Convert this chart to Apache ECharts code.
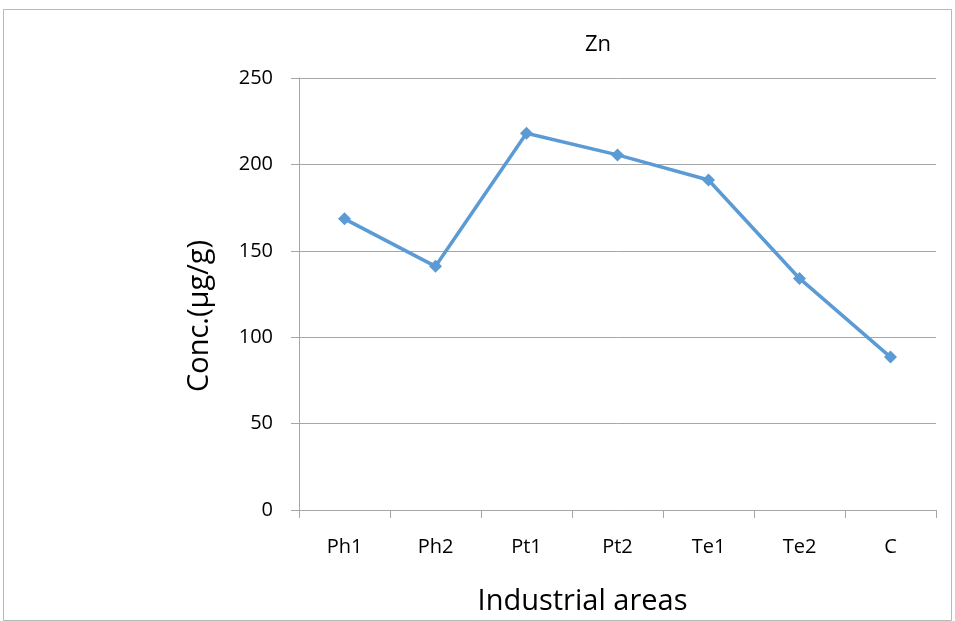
<!DOCTYPE html>
<html>
<head>
<meta charset="utf-8">
<script src="https://cdn.jsdelivr.net/npm/echarts@6/dist/echarts.min.js"></script>
<style>
  html, body { margin: 0; padding: 0; background: #fff; }
  #chart { width: 955px; height: 621px; }
</style>
</head>
<body>
<div id="chart"></div>
<script>
// Zn concentration by industrial area
const categories = ['Ph1', 'Ph2', 'Pt1', 'Pt2', 'Te1', 'Te2', 'C'];
const znValues = [168.5, 141, 218, 205.5, 191, 134, 88.5];
const yTicks = { min: 0, max: 250, interval: 50 };

const FONT = '"Open Sans", "Noto Sans", sans-serif';
const chart = echarts.init(document.getElementById('chart'));

chart.setOption({
  animation: false,
  backgroundColor: '#ffffff',
  title: {
    text: 'Zn',
    left: 593,
    top: 29,
    textAlign: 'center',
    textStyle: { fontFamily: FONT, fontSize: 22, fontWeight: 'normal', color: '#000' }
  },
  graphic: [{
    type: 'rect',
    shape: { x: 3.5, y: 9.5, width: 948, height: 611 },
    style: { fill: 'none', stroke: '#b8b8b8', lineWidth: 1 },
    silent: true
  }],
  grid: { left: 299, right: 19, top: 78, bottom: 108 },
  xAxis: {
    type: 'category',
    data: categories,
    boundaryGap: true,
    name: 'Industrial areas',
    nameLocation: 'middle',
    nameGap: 77,
    nameTextStyle: { fontFamily: FONT, fontSize: 29, color: '#000', padding: [0, 70, 0, 0] },
    axisLine: { lineStyle: { color: '#a6a6a6', width: 1 } },
    axisTick: { show: true, alignWithLabel: false, length: 8, lineStyle: { color: '#a6a6a6' } },
    axisLabel: { fontFamily: FONT, fontSize: 20, color: '#000', margin: 27 }
  },
  yAxis: {
    type: 'value',
    min: yTicks.min,
    max: yTicks.max,
    interval: yTicks.interval,
    name: 'Conc.(µg/g)',
    nameLocation: 'middle',
    nameGap: 85,
    nameRotate: 90,
    nameTextStyle: { fontFamily: FONT, fontSize: 29, color: '#000', padding: [0, 44, 0, 0] },
    axisLine: { show: true, lineStyle: { color: '#a6a6a6', width: 1 } },
    axisTick: { show: true, length: 8, lineStyle: { color: '#a6a6a6' } },
    axisLabel: { fontFamily: FONT, fontSize: 20, color: '#000', margin: 26 },
    splitLine: { show: true, lineStyle: { color: '#a6a6a6', width: 1 } }
  },
  series: [{
    type: 'line',
    data: znValues,
    symbol: 'diamond',
    symbolSize: 13,
    lineStyle: { color: '#5b9bd5', width: 3.5 },
    itemStyle: { color: '#5b9bd5' }
  }]
});
</script>
</body>
</html>
